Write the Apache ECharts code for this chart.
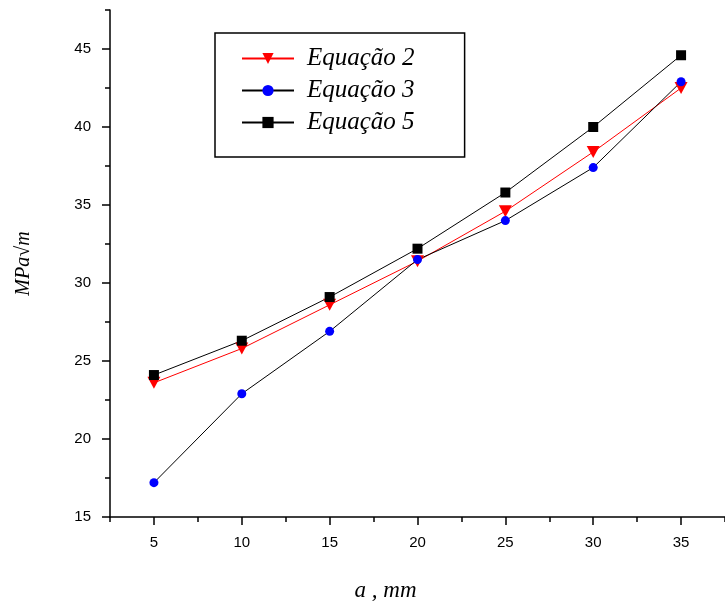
<!DOCTYPE html>
<html>
<head>
<meta charset="utf-8">
<script src="https://cdn.jsdelivr.net/npm/echarts@6/dist/echarts.min.js"></script>
<style>
  html, body { margin: 0; padding: 0; background: #fff; }
  #main { width: 725px; height: 607px; }
</style>
</head>
<body>
<div id="main"></div>
<script>
// crack length a (mm)
let aValues = [5, 10, 15, 20, 25, 30, 35];
// values, MPa·√m
let eq2 = [23.6, 25.8, 28.6, 31.4, 34.6, 38.4, 42.5];
let eq3 = [17.2, 22.9, 26.9, 31.5, 34.0, 37.4, 42.9];
let eq5 = [24.1, 26.3, 29.1, 32.2, 35.8, 40.0, 44.6];
let xTicks = [5, 10, 15, 20, 25, 30, 35];
let xMinorTicks = [2.5, 7.5, 12.5, 17.5, 22.5, 27.5, 32.5, 37.5];
let yTicks = [15, 20, 25, 30, 35, 40, 45];
let yMinorTicks = [17.5, 22.5, 27.5, 32.5, 37.5, 42.5, 47.5];

function pairs(ys) {
  return aValues.map((x, i) => [x, ys[i]]);
}

let myChart = echarts.init(document.getElementById('main'));

let axisFont = { color: '#000', fontSize: 15, fontFamily: 'Liberation Sans, Arial, sans-serif' };
let nameFont = { color: '#000', fontSize: 20, fontStyle: 'italic', fontFamily: 'Liberation Serif, serif' };

let option = {
  backgroundColor: '#fff',
  animation: false,
  grid: { left: 110, right: -8, top: 10, bottom: 89 },
  legend: {
    left: 215,
    top: 33,
    orient: 'vertical',
    itemWidth: 52,
    itemHeight: 14,
    itemGap: 7,
    padding: [13, 50, 22, 26],
    borderColor: '#000',
    borderWidth: 1.5,
    textStyle: {
      color: '#000', fontSize: 25, fontStyle: 'italic',
      fontFamily: 'Liberation Serif, serif', padding: [0, 0, 0, 8]
    },
    data: ['Equação 2', 'Equação 3', 'Equação 5']
  },
  xAxis: [
    {
      type: 'value',
      min: 2.5,
      max: 37.5,
      name: 'a , mm',
      nameLocation: 'middle',
      nameGap: 62,
      nameTextStyle: Object.assign({}, nameFont, { fontSize: 23, padding: [0, 64, 0, 0] }),
      axisLine: { lineStyle: { color: '#000', width: 1.5 } },
      axisTick: { length: 8, customValues: xTicks, lineStyle: { color: '#000', width: 1.5 } },
      axisLabel: Object.assign({ margin: 18, customValues: xTicks }, axisFont),
      splitLine: { show: false }
    },
    {
      type: 'value',
      min: 2.5,
      max: 37.5,
      position: 'bottom',
      axisLine: { show: false },
      axisTick: { length: 5, customValues: xMinorTicks, lineStyle: { color: '#000', width: 1.5 } },
      axisLabel: { show: false },
      splitLine: { show: false }
    }
  ],
  yAxis: [
    {
      type: 'value',
      min: 15,
      max: 47.5,
      name: 'MPa√m',
      nameLocation: 'middle',
      nameGap: 76,
      nameTextStyle: nameFont,
      axisLine: { show: true, lineStyle: { color: '#000', width: 1.5 } },
      axisTick: { show: true, length: 8, customValues: yTicks, lineStyle: { color: '#000', width: 1.5 } },
      axisLabel: Object.assign({ margin: 19, customValues: yTicks }, axisFont),
      splitLine: { show: false }
    },
    {
      type: 'value',
      min: 15,
      max: 47.5,
      position: 'left',
      axisLine: { show: false },
      axisTick: { show: true, length: 5, customValues: yMinorTicks, lineStyle: { color: '#000', width: 1.5 } },
      axisLabel: { show: false },
      splitLine: { show: false }
    }
  ],
  series: [
    {
      name: 'Equação 2',
      type: 'line',
      symbol: 'triangle',
      symbolRotate: 180,
      symbolSize: [13, 12],
      lineStyle: { color: '#ff0000', width: 1 },
      itemStyle: { color: '#ff0000' },
      data: pairs(eq2)
    },
    {
      name: 'Equação 3',
      type: 'line',
      symbol: 'circle',
      symbolSize: 9,
      lineStyle: { color: '#000', width: 1 },
      itemStyle: { color: '#0000ff' },
      data: pairs(eq3)
    },
    {
      name: 'Equação 5',
      type: 'line',
      symbol: 'rect',
      symbolSize: 10,
      lineStyle: { color: '#000', width: 1 },
      itemStyle: { color: '#000' },
      data: pairs(eq5)
    }
  ]
};

myChart.setOption(option, true);
window.addEventListener('resize', () => {
  myChart.resize();
});
</script>
</body>
</html>
